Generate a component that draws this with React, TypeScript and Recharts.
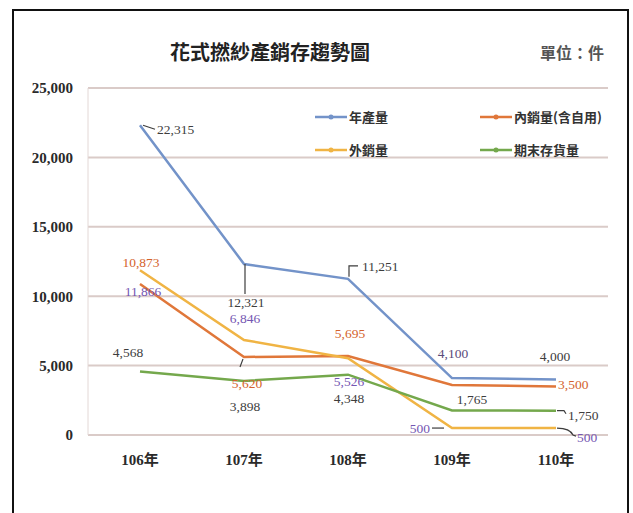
import React from 'react';
import { LineChart, Line, XAxis, YAxis, CartesianGrid, LabelList } from 'recharts';

const categories = ['106年', '107年', '108年', '109年', '110年'];
const production = [22315, 12321, 11251, 4100, 4000];
const domesticSales = [10873, 5620, 5695, 3600, 3500];
const exportSales = [11866, 6846, 5526, 500, 500];
const endingInventory = [4568, 3898, 4348, 1765, 1750];
const yTicks = [0, 5000, 10000, 15000, 20000, 25000];
const seriesNames = ['年產量', '內銷量(含自用)', '外銷量', '期末存貨量'];
const chartTitle = '花式撚紗產銷存趨勢圖';
const unitText = '單位：件';

const data = categories.map((c, i) => ({
  category: c,
  production: production[i],
  domestic: domesticSales[i],
  exports: exportSales[i],
  inventory: endingInventory[i],
}));

const COLORS = ['#7393c9', '#e0773a', '#f0b444', '#74a84c'];
const DARK = '#3d3d3d';
const ORANGE_T = '#d4622c';
const PURPLE_T = '#7456b2';

type LabelLayout = { dx: number; dy: number; anchor: 'start' | 'middle' | 'end'; fill: string; leader?: string } | null;

const fmt = (v: number) => v.toLocaleString('en-US');

// label placement (styling), relative to each point
const prodLabels: LabelLayout[] = [
  { dx: 17, dy: 4.5, anchor: 'start', fill: DARK, leader: 'M3,0 L15,4' },
  { dx: 2, dy: 39, anchor: 'middle', fill: DARK, leader: 'M1,0 L1,30' },
  { dx: 14, dy: -12, anchor: 'start', fill: DARK, leader: 'M1,-2 L1,-13 L10,-13' },
  { dx: 1, dy: -25, anchor: 'middle', fill: '#5a4a7a' },
  { dx: -1, dy: -23, anchor: 'middle', fill: DARK },
];
const domLabels: LabelLayout[] = [
  { dx: 1, dy: -22, anchor: 'middle', fill: ORANGE_T },
  { dx: 3, dy: 27, anchor: 'middle', fill: ORANGE_T, leader: 'M-1,2 L-4,10' },
  { dx: 2, dy: -22, anchor: 'middle', fill: ORANGE_T },
  null,
  { dx: 2, dy: -2, anchor: 'start', fill: ORANGE_T },
];
const expLabels: LabelLayout[] = [
  { dx: 3, dy: 21, anchor: 'middle', fill: PURPLE_T },
  { dx: 1, dy: -21, anchor: 'middle', fill: PURPLE_T },
  { dx: 1, dy: 23, anchor: 'middle', fill: PURPLE_T },
  { dx: -22, dy: 0, anchor: 'end', fill: PURPLE_T, leader: 'M-20,0 L-8,0' },
  { dx: 21, dy: 9.5, anchor: 'start', fill: PURPLE_T, leader: 'M1,0 Q14,0 17,7 L20,8' },
];
const invLabels: LabelLayout[] = [
  { dx: -12, dy: -19, anchor: 'middle', fill: DARK },
  { dx: 1, dy: 26, anchor: 'middle', fill: DARK },
  { dx: 1, dy: 24, anchor: 'middle', fill: DARK },
  { dx: 20, dy: -11, anchor: 'middle', fill: DARK },
  { dx: 12, dy: 4.5, anchor: 'start', fill: DARK, leader: 'M1,0 L8,0 L10,3' },
];

const makeLabel = (layouts: LabelLayout[]) => (props: any) => {
  const { x, y, value, index } = props;
  const l = layouts[index];
  if (!l || x == null || y == null) return null;
  return (
    <g>
      {l.leader && (
        <path d={l.leader} transform={`translate(${x},${y})`} stroke={DARK} strokeWidth={1.2} fill="none" />
      )}
      <text
        x={x + l.dx}
        y={y + l.dy}
        textAnchor={l.anchor}
        dominantBaseline="central"
        fontFamily="'Liberation Serif', 'Times New Roman', serif"
        fontSize={13.5}
        fill={l.fill}
      >
        {fmt(Number(value))}
      </text>
    </g>
  );
};

const legendPos = [
  { left: 315, top: 117 },
  { left: 480, top: 117 },
  { left: 315, top: 150 },
  { left: 480, top: 150 },
];

export default function App() {
  return (
    <div style={{ position: 'absolute', left: 0, top: 0, width: 633, height: 513, overflow: 'hidden', background: '#fff' }}>
      <div
        style={{
          position: 'absolute',
          left: 12,
          top: 9,
          width: 613,
          height: 520,
          border: '2px solid #111',
        }}
      />
      <div
        style={{
          position: 'absolute',
          left: 170,
          width: 200,
          top: 41,
          textAlign: 'center',
          fontFamily: "'Noto Sans CJK TC', sans-serif",
          fontWeight: 700,
          fontSize: 20,
          lineHeight: '22px',
          color: '#222',
          whiteSpace: 'nowrap',
        }}
      >
        {chartTitle}
      </div>
      <div
        style={{
          position: 'absolute',
          left: 540,
          top: 43,
          fontFamily: "'Noto Sans CJK TC', sans-serif",
          fontWeight: 700,
          fontSize: 16,
          lineHeight: '18px',
          color: '#555',
          whiteSpace: 'nowrap',
        }}
      >
        {unitText}
      </div>
      <div style={{ position: 'absolute', left: 0, top: 0 }}>
        <LineChart width={633} height={513} data={data} margin={{ top: 88, right: 25, bottom: 48, left: 0 }}>
          <CartesianGrid horizontal vertical={false} stroke="#dacbc8" strokeWidth={2} />
          <XAxis
            dataKey="category"
            padding={{ left: 52, right: 52 }}
            axisLine={{ stroke: '#dacbc8', strokeWidth: 2 }}
            tickLine={false}
            tickSize={0}
            tickMargin={19}
            tick={{ fill: '#2a2a2a', fontSize: 15, fontWeight: 700, fontFamily: "'Liberation Serif', 'Noto Sans CJK TC', serif" }}
          />
          <YAxis
            width={88}
            domain={[0, 25000]}
            ticks={yTicks}
            interval={0}
            tickFormatter={(v: number) => fmt(v)}
            axisLine={{ stroke: '#e3d8d6', strokeWidth: 1 }}
            tickLine={false}
            tickSize={0}
            tickMargin={15}
            tick={{ fill: '#2a2a2a', fontSize: 15, fontWeight: 700, fontFamily: "'Liberation Serif', serif" }}
          />
          <Line type="linear" dataKey="production" name={seriesNames[0]} stroke={COLORS[0]} strokeWidth={2.5} dot={false} isAnimationActive={false}>
            <LabelList dataKey="production" content={makeLabel(prodLabels)} />
          </Line>
          <Line type="linear" dataKey="domestic" name={seriesNames[1]} stroke={COLORS[1]} strokeWidth={2.5} dot={false} isAnimationActive={false}>
            <LabelList dataKey="domestic" content={makeLabel(domLabels)} />
          </Line>
          <Line type="linear" dataKey="exports" name={seriesNames[2]} stroke={COLORS[2]} strokeWidth={2.5} dot={false} isAnimationActive={false}>
            <LabelList dataKey="exports" content={makeLabel(expLabels)} />
          </Line>
          <Line type="linear" dataKey="inventory" name={seriesNames[3]} stroke={COLORS[3]} strokeWidth={2.5} dot={false} isAnimationActive={false}>
            <LabelList dataKey="inventory" content={makeLabel(invLabels)} />
          </Line>
        </LineChart>
      </div>
      {seriesNames.map((name, i) => (
        <div
          key={name}
          style={{
            position: 'absolute',
            left: legendPos[i].left,
            top: legendPos[i].top - 9,
            height: 18,
            display: 'flex',
            alignItems: 'center',
            whiteSpace: 'nowrap',
          }}
        >
          <svg width={32} height={18} style={{ display: 'block' }}>
            <line x1={0} y1={9} x2={32} y2={9} stroke={COLORS[i]} strokeWidth={2.5} />
            <circle cx={16} cy={9} r={2.5} fill={COLORS[i]} />
          </svg>
          <span
            style={{
              marginLeft: 2,
              fontFamily: "'Noto Sans CJK TC', sans-serif",
              fontWeight: 700,
              fontSize: 13,
              lineHeight: '18px',
              color: '#333',
            }}
          >
            {name}
          </span>
        </div>
      ))}
    </div>
  );
}
